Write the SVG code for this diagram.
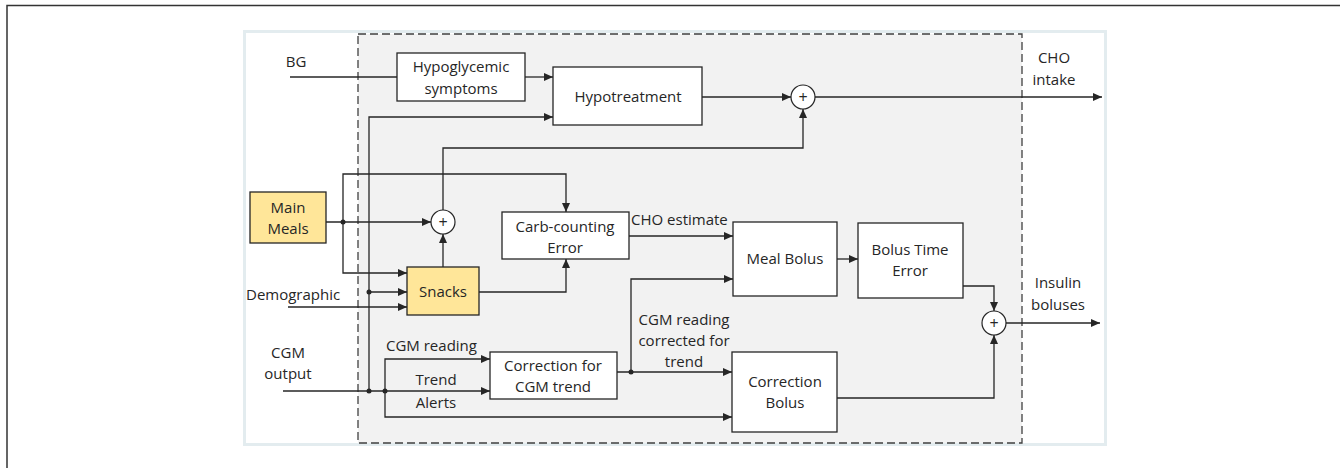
<svg xmlns="http://www.w3.org/2000/svg" width="1340" height="468" viewBox="0 0 1340 468">
<style>
text{font-family:"Open Sans","Liberation Sans",sans-serif;font-size:15px;fill:#262626}
.c{text-anchor:middle}
.box{fill:#fff;stroke:#262626;stroke-width:1.3}
.yel{fill:#ffe699;stroke:#262626;stroke-width:1.3}
.sum{fill:#fff;stroke:#262626;stroke-width:1.2}
.ln{fill:none;stroke:#262626;stroke-width:1.3}
.dot{fill:#262626}
.plus{font-size:16px}
</style>
<defs>
<marker id="ah" markerUnits="userSpaceOnUse" markerWidth="10" markerHeight="10" refX="9" refY="4" orient="auto">
<path d="M0,0 L9,4 L0,8 z" fill="#262626"/>
</marker>
</defs>
<rect width="1340" height="468" fill="#fff"/>
<path d="M7,468 V5.5 H1340" fill="none" stroke="#333" stroke-width="1.5"/>
<rect x="244.5" y="31.5" width="861" height="413" fill="#fff" stroke="#e3ecef" stroke-width="3"/>
<rect x="358" y="34" width="664" height="409" fill="#f2f2f2" stroke="#404040" stroke-width="1.3" stroke-dasharray="8,4"/>

<g id="connectors">
<path class="ln" d="M290,77 H397"/>
<path class="ln" marker-end="url(#ah)" d="M525,77 H553"/>
<path class="ln" marker-end="url(#ah)" d="M369,391 V117 H553"/>
<path class="ln" marker-end="url(#ah)" d="M702,97 H791"/>
<path class="ln" marker-end="url(#ah)" d="M443,210 V148 H803 V109"/>
<path class="ln" marker-end="url(#ah)" d="M815,97 H1102"/>
<path class="ln" marker-end="url(#ah)" d="M326,222 H431"/>
<path class="ln" marker-end="url(#ah)" d="M343,222 V174 H566 V212"/>
<path class="ln" marker-end="url(#ah)" d="M343,222 V273 H407"/>
<path class="ln" marker-end="url(#ah)" d="M369,292 H407"/>
<path class="ln" marker-end="url(#ah)" d="M288,307 H407"/>
<path class="ln" marker-end="url(#ah)" d="M443,267 V234"/>
<path class="ln" marker-end="url(#ah)" d="M479,292 H566 V259"/>
<path class="ln" marker-end="url(#ah)" d="M629,236 H733"/>
<path class="ln" marker-end="url(#ah)" d="M837,259 H858"/>
<path class="ln" marker-end="url(#ah)" d="M963,286 H994 V311"/>
<path class="ln" marker-end="url(#ah)" d="M837,398 H994 V335"/>
<path class="ln" marker-end="url(#ah)" d="M1006,323 H1100"/>
<path class="ln" marker-end="url(#ah)" d="M617,372 H732"/>
<path class="ln" marker-end="url(#ah)" d="M631,372 V279 H733"/>
<path class="ln" marker-end="url(#ah)" d="M283,391 H490"/>
<path class="ln" marker-end="url(#ah)" d="M385,391 V359 H490"/>
<path class="ln" marker-end="url(#ah)" d="M385,391 V417 H732"/>
<circle class="dot" cx="343" cy="222" r="2.5"/>
<circle class="dot" cx="369" cy="292" r="2.5"/>
<circle class="dot" cx="369" cy="391" r="2.5"/>
<circle class="dot" cx="385" cy="391" r="2.5"/>
<circle class="dot" cx="631" cy="372" r="2.5"/>
<text x="296" y="67" class="c">BG</text>
<text x="1054" y="63" class="c">CHO</text>
<text x="1054" y="85" class="c">intake</text>
<text x="246" y="300">Demographic</text>
<text x="631" y="225">CHO estimate</text>
<text x="1058" y="288" class="c">Insulin</text>
<text x="1058" y="310" class="c">boluses</text>
<text x="288" y="358" class="c">CGM</text>
<text x="288" y="379" class="c">output</text>
<text x="386" y="351">CGM reading</text>
<text x="436" y="385" class="c">Trend</text>
<text x="436" y="408" class="c">Alerts</text>
<text x="684" y="325" class="c">CGM reading</text>
<text x="684" y="346" class="c">corrected for</text>
<text x="684" y="367" class="c">trend</text>
</g>

<g id="hypoglycemic-symptoms">
<rect class="box" x="397" y="53" width="128" height="48"/>
<text x="461" y="72" class="c">Hypoglycemic</text>
<text x="461" y="94" class="c">symptoms</text>
</g>
<g id="hypotreatment">
<rect class="box" x="553" y="67" width="149" height="58"/>
<text x="628" y="102" class="c">Hypotreatment</text>
</g>
<g id="sum-cho">
<circle class="sum" cx="803" cy="97" r="12"/>
<text x="803" y="102.5" class="c plus">+</text>
</g>
<g id="main-meals">
<rect class="yel" x="250" y="192" width="76" height="51"/>
<text x="288" y="213" class="c">Main</text>
<text x="288" y="234" class="c">Meals</text>
</g>
<g id="sum-meals">
<circle class="sum" cx="443" cy="222" r="12"/>
<text x="443" y="227.5" class="c plus">+</text>
</g>
<g id="snacks">
<rect class="yel" x="407" y="267" width="72" height="48"/>
<text x="443" y="297" class="c">Snacks</text>
</g>
<g id="carb-counting-error">
<rect class="box" x="502" y="212" width="127" height="47"/>
<text x="565" y="232" class="c">Carb-counting</text>
<text x="565" y="253" class="c">Error</text>
</g>
<g id="meal-bolus">
<rect class="box" x="733" y="222" width="104" height="74"/>
<text x="785" y="264" class="c">Meal Bolus</text>
</g>
<g id="bolus-time-error">
<rect class="box" x="858" y="223" width="105" height="75"/>
<text x="910" y="255" class="c">Bolus Time</text>
<text x="910" y="276" class="c">Error</text>
</g>
<g id="sum-insulin">
<circle class="sum" cx="994" cy="323" r="12"/>
<text x="994" y="328.5" class="c plus">+</text>
</g>
<g id="correction-cgm-trend">
<rect class="box" x="490" y="352" width="127" height="47"/>
<text x="553" y="371" class="c">Correction for</text>
<text x="553" y="392" class="c">CGM trend</text>
</g>
<g id="correction-bolus">
<rect class="box" x="732" y="352" width="105" height="80"/>
<text x="785" y="387" class="c">Correction</text>
<text x="785" y="408" class="c">Bolus</text>
</g>
</svg>
